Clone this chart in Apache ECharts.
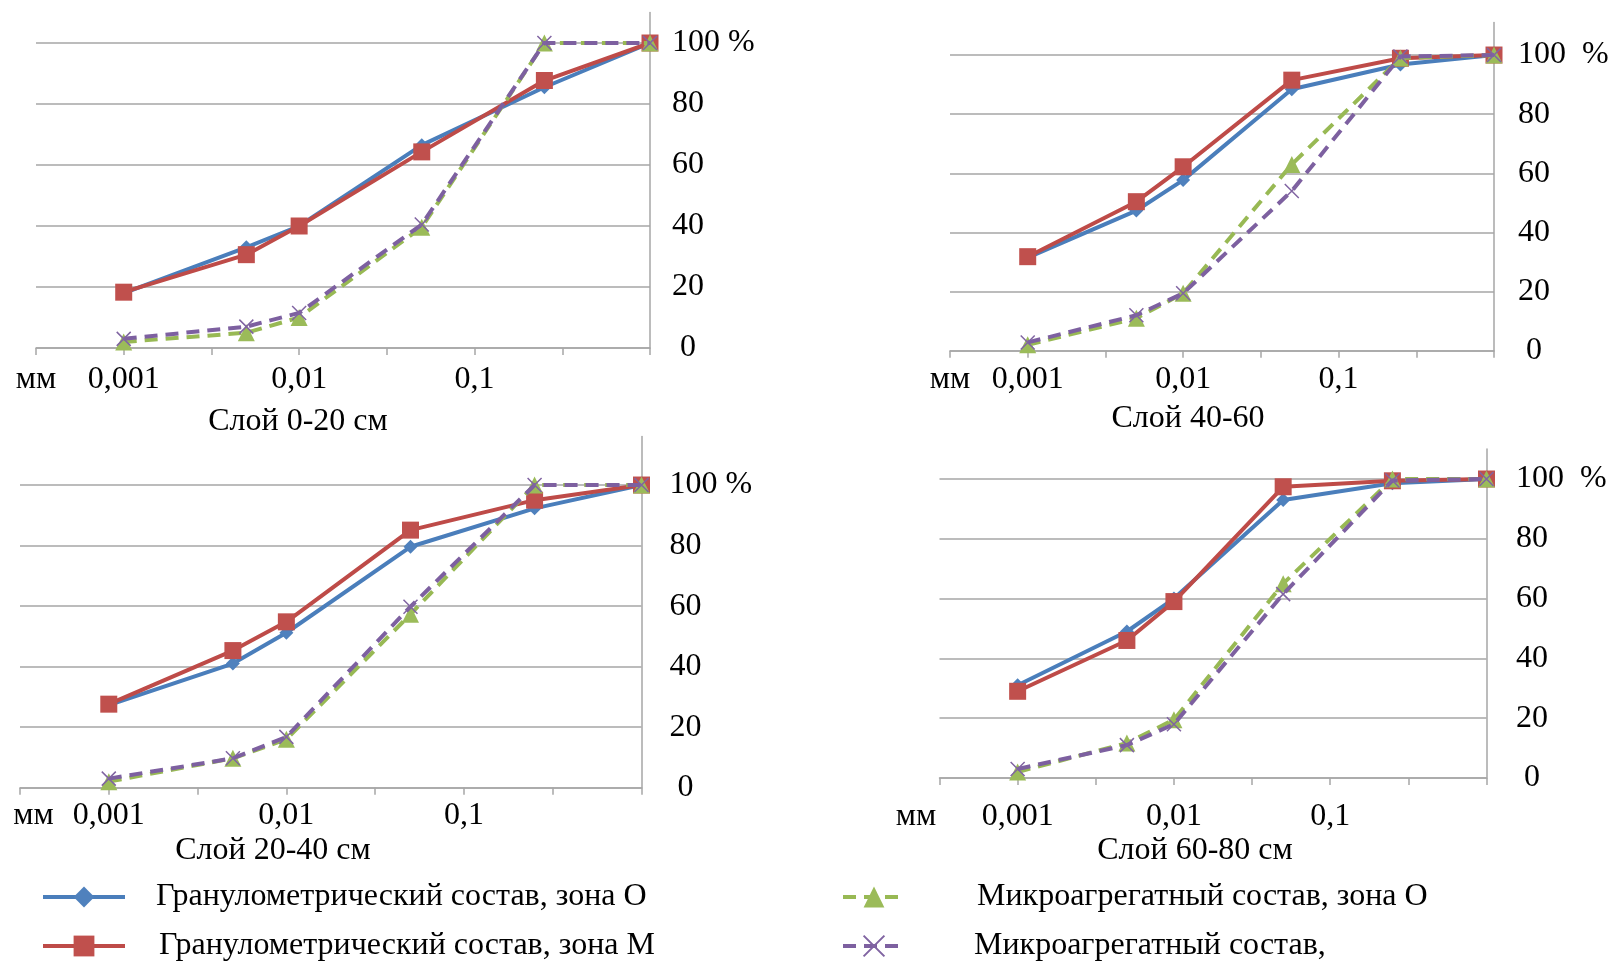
<!DOCTYPE html>
<html>
<head>
<meta charset="utf-8">
<script src="https://cdn.jsdelivr.net/npm/echarts@6/dist/echarts.min.js"></script>
<style>
  html, body { margin: 0; padding: 0; background: #fff; }
  #chart { width: 1612px; height: 963px; }
</style>
</head>
<body>
<div id="chart"></div>
<script>
// размер частиц, мм
var sizes = [0.001, 0.005, 0.01, 0.05, 0.25, 1];

var seriesNames = [
  'Гранулометрический состав, зона О',
  'Гранулометрический состав, зона М',
  'Микроагрегатный состав, зона О',
  'Микроагрегатный состав,'
];

// накопленное содержание, %
var granO_0_20  = [18, 33, 40, 66.5, 85.5, 100];
var granM_0_20  = [18.3, 30.6, 40, 64.3, 87.7, 100];
var microO_0_20 = [2, 5, 10, 39.6, 100, 100];
var microM_0_20 = [3, 7, 11.5, 40.5, 100, 100];

var granO_40_60  = [31.5, 47.4, 57.7, 88.4, 96.8, 100];
var granM_40_60  = [31.8, 50.4, 62.2, 91.5, 98.9, 100];
var microO_40_60 = [2, 11, 19.4, 63, 99, 100];
var microM_40_60 = [2.8, 12, 19.4, 54, 99.5, 100];

var granO_20_40  = [27.3, 41, 51.2, 79.6, 92.3, 100];
var granM_20_40  = [27.6, 45.3, 54.8, 85.1, 95, 100];
var microO_20_40 = [2, 9.7, 16, 57.3, 100, 100];
var microM_20_40 = [3, 9.7, 16.8, 59.8, 100, 100];

var granO_60_80  = [31, 49, 60, 93, 98.6, 100];
var granM_60_80  = [29, 46, 59, 97.4, 99.4, 100];
var microO_60_80 = [2, 11.7, 19.5, 65, 100, 100];
var microM_60_80 = [3, 11, 18, 61.5, 99.5, 100];

var layerTitles = ['Слой 0-20 см', 'Слой 40-60', 'Слой 20-40 см', 'Слой 60-80 см'];
var layerData = [
  [granO_0_20, granM_0_20, microO_0_20, microM_0_20],
  [granO_40_60, granM_40_60, microO_40_60, microM_40_60],
  [granO_20_40, granM_20_40, microO_20_40, microM_20_40],
  [granO_60_80, granM_60_80, microO_60_80, microM_60_80]
];

var FONT = 'Liberation Serif';
var FS = 32;
var GRID_COLOR = '#a6a6a6';

// раскладка панелей
var panels = [
  { left: 36,    top: 12.5,  width: 614,   height: 335.5, ymax: 110, mmPad: [0, 0, 0, 0],  xMargin: 16, yMargin: 22,   pct: '100 %',  tx: 298,  ty: 406 },
  { left: 950,   top: 22.5,  width: 544,   height: 328.2, ymax: 111, mmPad: [0, 0, 0, 0],  xMargin: 13, yMargin: 24,   pct: '100  %', tx: 1188, ty: 403 },
  { left: 20,    top: 436.6, width: 621.5, height: 351.1, ymax: 116, mmPad: [0, 0, 0, 27], xMargin: 12, yMargin: 28,   pct: '100 %',  tx: 273,  ty: 835 },
  { left: 939.5, top: 449.1, width: 547,   height: 328.9, ymax: 110, mmPad: [0, 47, 0, 0], xMargin: 23, yMargin: 29.5, pct: '100  %', tx: 1195, ty: 835 }
];

var styles = [
  { symbol: 'diamond', size: 14, line: '#4A7EBB', fill: '#4F81BD', type: 'solid' },
  { symbol: 'rect', size: 17, line: '#BE4B48', fill: '#C0504D', type: 'solid' },
  { symbol: 'triangle', size: 17, line: '#98B954', fill: '#9BBB59', type: [13, 8] },
  { symbol: 'path://M0,0L10,10M10,0L0,10', size: 14, line: '#7D60A0', fill: '#8064A2', type: [13, 8], cross: true }
];

// позиции легенды: [left, top, itemWidth, text offset]
var legendPos = [
  [41, 881, 82, 26],
  [41, 930, 82, 29],
  [841, 881, 62, 67],
  [841, 930, 62, 64]
];

var xLabels = { '-3.5': 'мм', '-3': '0,001', '-2': '0,01', '-1': '0,1' };

var grid = [], xAxis = [], yAxis = [], title = [], series = [], legend = [];

panels.forEach(function (p, i) {
  grid.push({ left: p.left, top: p.top, width: p.width, height: p.height, containLabel: false });
  title.push({
    text: layerTitles[i], left: p.tx, top: p.ty, textAlign: 'center', padding: 0,
    textStyle: { fontFamily: FONT, fontSize: FS, fontWeight: 'normal', color: '#000' }
  });
  xAxis.push({
    type: 'log', logBase: 10, gridIndex: i,
    min: Math.pow(10, -3.5), max: 1, interval: 0.5,
    axisLine: { lineStyle: { color: GRID_COLOR, width: 1.5 } },
    axisTick: { show: true, length: 7, lineStyle: { color: GRID_COLOR, width: 1.5 } },
    splitLine: { show: false },
    axisLabel: {
      margin: p.xMargin, fontFamily: FONT, fontSize: FS, color: '#000',
      formatter: function (v) {
        var e = Math.round(Math.log10(v) * 2) / 2;
        var t = xLabels[String(e)];
        if (!t) return '';
        return e === -3.5 ? '{mm|' + t + '}' : t;
      },
      rich: { mm: { fontFamily: FONT, fontSize: FS, color: '#000', padding: p.mmPad } }
    }
  });
  yAxis.push({
    type: 'value', gridIndex: i, position: 'right',
    min: 0, max: p.ymax, interval: 20,
    axisLine: { show: true, lineStyle: { color: GRID_COLOR, width: 1.5 } },
    axisTick: { show: false },
    splitLine: { show: true, showMaxLine: false, lineStyle: { color: GRID_COLOR, width: 1.5 } },
    axisLabel: {
      showMaxLabel: false, margin: p.yMargin, fontFamily: FONT, fontSize: FS, color: '#000',
      formatter: function (v) {
        if (v > 100) return '';
        if (v === 100) return p.pct;
        if (v === 0) return '{z|0}';
        return String(v);
      },
      rich: { z: { fontFamily: FONT, fontSize: FS, color: '#000', padding: [0, 0, 0, 8] } }
    }
  });
  layerData[i].forEach(function (arr, j) {
    var s = styles[j];
    series.push({
      name: seriesNames[j], type: 'line', xAxisIndex: i, yAxisIndex: i,
      data: sizes.map(function (d, k) { return [d, arr[k]]; }),
      symbol: s.symbol, symbolSize: s.size, showAllSymbol: true,
      lineStyle: { color: s.line, width: 4, type: s.type },
      itemStyle: s.cross
        ? { color: 'rgba(0,0,0,0)', borderColor: s.fill, borderWidth: 1.5 }
        : { color: s.fill, borderColor: s.fill, borderWidth: 0 },
      z: 2 + j
    });
  });
});

legendPos.forEach(function (lp, j) {
  legend.push({
    left: lp[0], top: lp[1], padding: 0, itemWidth: lp[2], itemHeight: 26,
    data: [seriesNames[j]],
    lineStyle: { width: 4 },
    textStyle: { fontFamily: FONT, fontSize: FS, color: '#000', lineHeight: 30, padding: [0, 0, 0, lp[3]] }
  });
});

var option = {
  animation: false,
  backgroundColor: '#fff',
  title: title,
  grid: grid,
  xAxis: xAxis,
  yAxis: yAxis,
  legend: legend,
  series: series
};

var chart = echarts.init(document.getElementById('chart'));
chart.setOption(option);
</script>
</body>
</html>
